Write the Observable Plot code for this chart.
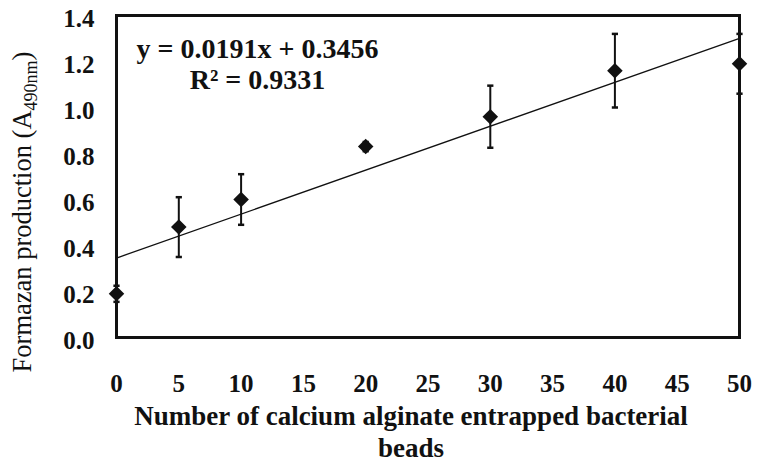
<!DOCTYPE html>
<html>
<head>
<meta charset="utf-8">
<script src="https://cdn.jsdelivr.net/npm/d3@7"></script>
<script src="https://cdn.jsdelivr.net/npm/@observablehq/plot@0.6"></script>
<style>
  html, body { margin: 0; padding: 0; background: #fff; }
  #chart svg { display: block; }
</style>
</head>
<body>
<div id="chart"></div>
<script>
// Data
const beads = [0, 5, 10, 20, 30, 40, 50];
const formazan = [0.19, 0.48, 0.60, 0.83, 0.96, 1.16, 1.19];
const errors = [0.035, 0.13, 0.11, 0.02, 0.135, 0.16, 0.13];
const xTicks = [0, 5, 10, 15, 20, 25, 30, 35, 40, 45, 50];
const yTicks = [0, 0.2, 0.4, 0.6, 0.8, 1.0, 1.2, 1.4];
const slope = 0.0191;
const intercept = 0.3456;
const trendX = [0, 50];
const equationText = ["y = 0.0191x + 0.3456\nR² = 0.9331"];
const xTitle = ["Number of calcium alginate entrapped bacterial\nbeads"];

const data = beads.map((x, i) => ({x, y: formazan[i], err: errors[i]}));

const capSymbol = {
  draw(ctx, size) {
    const r = Math.sqrt(size) / 2;
    ctx.moveTo(-r, 0);
    ctx.lineTo(r, 0);
  }
};

const font = "'Liberation Serif', 'Times New Roman', serif";

const plot = Plot.plot({
  width: 757,
  height: 463,
  marginLeft: 116,
  marginRight: 18,
  marginTop: 15,
  marginBottom: 126,
  style: {fontFamily: font, background: "#fff", color: "#111"},
  x: {domain: [0, 50]},
  y: {domain: [0, 1.4]},
  marks: [
    Plot.axisX({ticks: xTicks, tickSize: 0, tickPadding: 37, fontSize: 25, fontWeight: "bold", label: null, tickFormat: d3.format("d")}),
    Plot.axisY({ticks: yTicks, tickSize: 0, tickPadding: 22, fontSize: 25, fontWeight: "bold", label: null, tickFormat: d3.format(".1f"), dy: 3}),
    Plot.line(trendX, {x: d => d, y: d => intercept + slope * d, stroke: "#111", strokeWidth: 1.3}),
    Plot.ruleX(data, {x: "x", y1: d => d.y - d.err, y2: d => d.y + d.err, stroke: "#111", strokeWidth: 2}),
    Plot.dot(data, {x: "x", y: d => d.y + d.err, symbol: capSymbol, r: 3.5, stroke: "#111", strokeWidth: 2.5}),
    Plot.dot(data, {x: "x", y: d => d.y - d.err, symbol: capSymbol, r: 3.5, stroke: "#111", strokeWidth: 2.5}),
    Plot.dot(data, {x: "x", y: "y", symbol: "diamond2", r: 7, fill: "#111", stroke: "none"}),
    Plot.frame({stroke: "#111", strokeWidth: 3}),
    Plot.text(equationText, {frameAnchor: "top-left", dx: 141, dy: 20, lineAnchor: "top", textAnchor: "middle", fontSize: 28, fontWeight: "bold", lineHeight: 1.12, fill: "#111"}),
    Plot.text(xTitle, {frameAnchor: "bottom", dx: -17, dy: 65, lineAnchor: "top", textAnchor: "middle", fontSize: 27, fontWeight: "bold", lineHeight: 1.18, fill: "#111"})
  ]
});

// y-axis title with subscript
const svg = d3.select(plot);
const t = svg.append("text")
  .attr("transform", "translate(31,212) rotate(-90)")
  .attr("text-anchor", "middle")
  .attr("font-family", font)
  .attr("font-size", 26.5)
  .attr("fill", "#111");
t.append("tspan").text("Formazan production (A");
t.append("tspan").attr("font-size", 18).attr("dy", 6).text("490nm");
t.append("tspan").attr("dy", -6).text(")");

document.getElementById("chart").appendChild(plot);
</script>
</body>
</html>
